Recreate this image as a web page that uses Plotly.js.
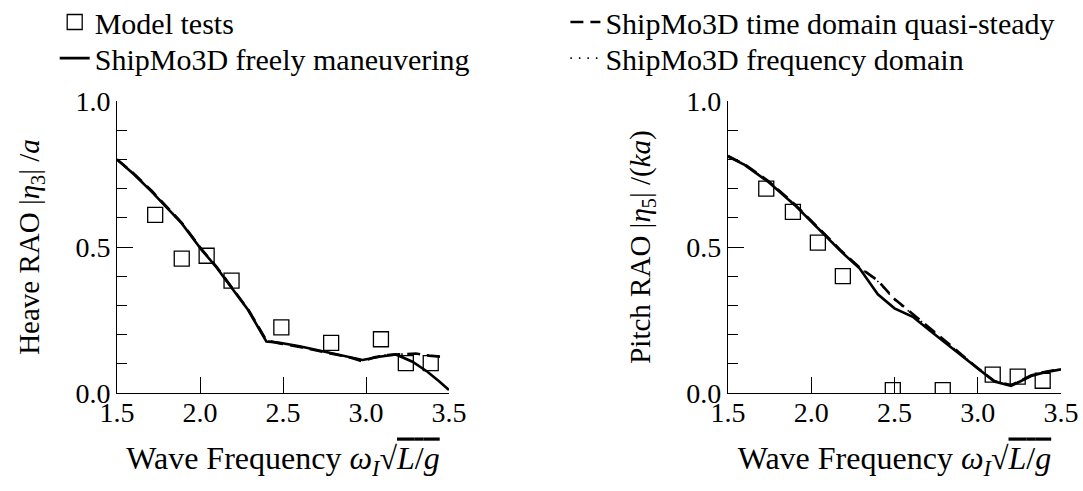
<!DOCTYPE html>
<html>
<head>
<meta charset="utf-8">
<script src="https://cdn.plot.ly/plotly-3.0.1.min.js"></script>
<style>
  html, body { margin: 0; padding: 0; background: #fff; }
  #chart { width: 1083px; height: 491px; }
</style>
</head>
<body>
<div id="chart"></div>
<script>
// ---- Data ----
const freqModel  = [1.73, 1.89, 2.04, 2.19, 2.49, 2.79, 3.09, 3.24, 3.39];
const heaveModel = [0.61, 0.46, 0.47, 0.385, 0.225, 0.172, 0.184, 0.102, 0.102];
const pitchModel = [0.70, 0.62, 0.515, 0.40, 0.01, 0.01, 0.063, 0.056, 0.042];

const freqHeaveFree = [1.5, 1.6, 1.71, 1.8, 1.89, 2.01, 2.1, 2.17, 2.29, 2.4, 2.48, 2.6, 2.7, 2.8, 2.9, 2.98, 3.08, 3.18, 3.28, 3.37, 3.44, 3.5];
const heaveFree     = [0.80, 0.75, 0.689, 0.635, 0.581, 0.49, 0.43, 0.376, 0.284, 0.176, 0.172, 0.16, 0.148, 0.137, 0.125, 0.113, 0.124, 0.132, 0.107, 0.073, 0.04, 0.01];

const freqHeaveTD = [1.5, 1.6, 1.71, 1.8, 1.89, 2.01, 2.1, 2.17, 2.29, 2.4, 2.48, 2.6, 2.7, 2.8, 2.9, 2.98, 3.05, 3.12, 3.2, 3.3, 3.38, 3.46];
const heaveTD     = [0.80, 0.752, 0.692, 0.637, 0.583, 0.492, 0.432, 0.378, 0.286, 0.18, 0.17, 0.158, 0.146, 0.135, 0.122, 0.108, 0.122, 0.13, 0.133, 0.135, 0.128, 0.124];

const freqHeaveFD = [1.5, 1.6, 1.71, 1.8, 1.89, 2.01, 2.1, 2.17, 2.29, 2.4, 2.48, 2.6, 2.7, 2.8, 2.9, 2.98, 3.05, 3.12, 3.2, 3.3, 3.38, 3.46];
const heaveFD     = [0.80, 0.751, 0.691, 0.636, 0.582, 0.491, 0.431, 0.377, 0.285, 0.179, 0.171, 0.159, 0.147, 0.136, 0.123, 0.109, 0.122, 0.13, 0.133, 0.134, 0.128, 0.124];

const freqPitchFree = [1.5, 1.6, 1.74, 1.9, 2.06, 2.18, 2.29, 2.34, 2.4, 2.5, 2.61, 2.71, 2.81, 2.9, 3.0, 3.1, 3.2, 3.25, 3.32, 3.4, 3.5];
const pitchFree     = [0.81, 0.781, 0.724, 0.644, 0.553, 0.484, 0.427, 0.385, 0.338, 0.29, 0.261, 0.215, 0.17, 0.128, 0.083, 0.039, 0.024, 0.038, 0.058, 0.07, 0.081];

const freqPitchTD = [1.5, 1.6, 1.74, 1.9, 2.06, 2.18, 2.29, 2.35, 2.4, 2.5, 2.6, 2.7, 2.8, 2.9, 3.0, 3.1, 3.2, 3.25, 3.32, 3.4, 3.5];
const pitchTD     = [0.812, 0.783, 0.727, 0.647, 0.556, 0.487, 0.43, 0.405, 0.385, 0.322, 0.276, 0.229, 0.181, 0.133, 0.085, 0.041, 0.027, 0.04, 0.06, 0.072, 0.082];

const freqPitchFD = [1.5, 1.6, 1.74, 1.9, 2.06, 2.18, 2.29, 2.35, 2.4, 2.5, 2.6, 2.7, 2.8, 2.9, 3.0, 3.1, 3.2, 3.25, 3.32, 3.4, 3.5];
const pitchFD     = [0.811, 0.782, 0.726, 0.646, 0.555, 0.486, 0.429, 0.403, 0.382, 0.319, 0.274, 0.227, 0.179, 0.132, 0.084, 0.04, 0.026, 0.039, 0.059, 0.071, 0.081];

const yTickVals = [0.0, 0.5, 1.0];
const xTickVals = [1.5, 2.0, 2.5, 3.0, 3.5];

const names = {
  model: 'Model tests',
  free: 'ShipMo3D freely maneuvering',
  td: 'ShipMo3D time domain quasi-steady',
  fd: 'ShipMo3D frequency domain'
};

// ---- Styles ----
const FONT = 'Liberation Serif';
const lineW = 2.6;
const sq = {symbol: 'square-open', size: 15, color: '#000', line: {width: 1.3, color: '#000'}};

function curves(xa, ya, fx, fy, tx, ty, dx, dy, show) {
  return [
    {x: dx, y: dy, xaxis: xa, yaxis: ya, type: 'scatter', mode: 'lines', name: names.fd,
     line: {color: '#000', width: 1.6, dash: '1.5px,7px'}, showlegend: show, legend: 'legend4'},
    {x: tx, y: ty, xaxis: xa, yaxis: ya, type: 'scatter', mode: 'lines', name: names.td,
     line: {color: '#000', width: lineW, dash: '13px,7px'}, showlegend: show, legend: 'legend2'},
    {x: fx, y: fy, xaxis: xa, yaxis: ya, type: 'scatter', mode: 'lines', name: names.free,
     line: {color: '#000', width: lineW}, showlegend: show, legend: 'legend3'}
  ];
}

const data = [].concat(
  curves('x', 'y', freqHeaveFree, heaveFree, freqHeaveTD, heaveTD, freqHeaveFD, heaveFD, true),
  [{x: freqModel, y: heaveModel, xaxis: 'x', yaxis: 'y', type: 'scatter', mode: 'markers', name: names.model,
    marker: sq, showlegend: true, legend: 'legend'}],
  curves('x2', 'y2', freqPitchFree, pitchFree, freqPitchTD, pitchTD, freqPitchFD, pitchFD, false),
  [{x: freqModel, y: pitchModel, xaxis: 'x2', yaxis: 'y2', type: 'scatter', mode: 'markers', name: names.model,
    marker: sq, showlegend: false}]
);

function xAxis(domain, anchor) {
  return {
    domain: domain, anchor: anchor, range: [1.5, 3.5], tickvals: xTickVals, tickformat: '.1f',
    showline: true, linecolor: '#000', linewidth: 1, mirror: false,
    ticks: 'inside', ticklen: 16, tickwidth: 1, tickcolor: '#000',
    ticklabelstandoff: -6,
    showgrid: false, zeroline: false,
    tickfont: {family: FONT, size: 28, color: '#000'},
    title: {text: 'Wave Frequency <i>ω<sub>I</sub></i>√<span style="text-decoration:overline"><i>L</i>/<i>g</i></span>',
            font: {family: FONT, size: 32, color: '#000'}, standoff: 20}
  };
}
function yAxis(anchor, title) {
  return {
    anchor: anchor, range: [0, 1.0], tickvals: yTickVals, tickformat: '.1f',
    showline: true, linecolor: '#000', linewidth: 1, mirror: false,
    ticks: 'inside', ticklen: 16, tickwidth: 1, tickcolor: '#000',
    minor: {dtick: 0.1, ticks: 'inside', ticklen: 10, tickwidth: 1, tickcolor: '#000', showgrid: false},
    showgrid: false, zeroline: false,
    tickfont: {family: FONT, size: 28, color: '#000'},
    title: {text: title, font: {family: FONT, size: 29, color: '#000'}, standoff: 27}
  };
}

function legendAt(x, y) {
  return {x: x, y: y, xanchor: 'left', yanchor: 'middle', orientation: 'v',
          bgcolor: 'rgba(0,0,0,0)', borderwidth: 0, font: {family: FONT, size: 30, color: '#000'}};
}

const layout = {
  width: 1083, height: 491,
  margin: {l: 117, r: 22, t: 101, b: 98, autoexpand: false},
  paper_bgcolor: '#fff', plot_bgcolor: '#fff',
  font: {family: FONT, size: 28, color: '#000'},
  xaxis: xAxis([0, 0.3517], 'y'),
  yaxis: yAxis('x', 'Heave RAO |<i>η</i><sub>3</sub>| /<i>a</i>'),
  xaxis2: xAxis([0.6472, 1], 'y2'),
  yaxis2: yAxis('x2', 'Pitch RAO |<i>η</i><sub>5</sub>| /(<i>ka</i>)'),
  legend:  legendAt(-0.066, 1.2705),
  legend3: legendAt(-0.066, 1.147),
  legend2: legendAt(0.475, 1.2705),
  legend4: legendAt(0.475, 1.147),
  showlegend: true
};

Plotly.newPlot('chart', data, layout, {displayModeBar: false, staticPlot: true});
</script>
</body>
</html>
